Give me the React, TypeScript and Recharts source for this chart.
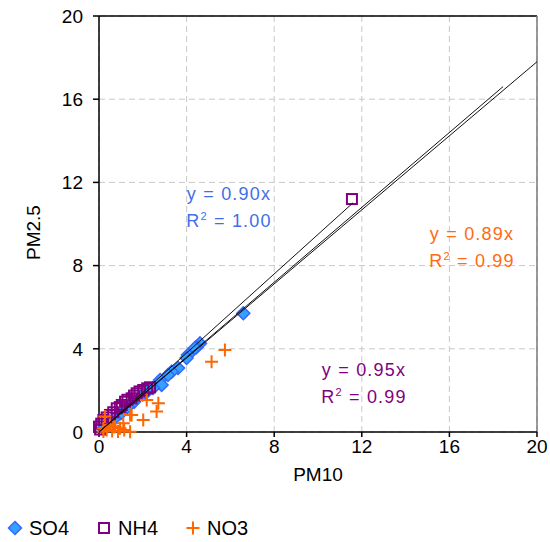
import React from 'react';
import { ScatterChart, Scatter, XAxis, YAxis, CartesianGrid, ReferenceLine, Legend, Label } from 'recharts';

// PM10 vs PM2.5 pairs
const so4 = [
  [6.59, 5.71], [4.61, 4.26], [4.45, 4.08], [4.38, 4.04], [4.06, 3.7], [4.0, 3.56],
  [3.61, 3.08], [3.32, 2.9], [3.15, 2.74], [2.79, 2.5], [2.86, 2.26], [2.47, 2.12],
  [2.2, 1.95], [2.0, 1.8], [1.6, 1.45], [1.3, 1.2], [1.0, 0.9], [0.7, 0.65],
  [0.4, 0.38], [0.2, 0.18],
];
const nh4 = [
  [11.55, 11.2], [2.33, 2.15], [2.2, 2.1], [2.02, 2.02], [1.85, 1.95], [1.72, 1.86],
  [1.6, 1.75], [1.49, 1.62], [1.3, 1.55], [1.19, 1.46], [1.04, 1.3], [0.95, 1.2],
  [0.81, 1.14], [0.65, 0.95], [0.5, 0.82], [0.35, 0.7], [0.2, 0.58], [0.1, 0.4],
  [0.0, 0.26], [0.05, 0.12],
];
const no3 = [
  [5.75, 3.94], [5.14, 3.38], [2.71, 1.38], [2.63, 0.98], [2.18, 1.54], [2.02, 0.58],
  [1.49, 0.82], [1.42, 0.01], [1.11, 0.42], [0.27, 0.74], [0.73, 0.25], [0.35, 0.1],
  [0.96, 0.18], [0.5, 0.34], [0.2, 0.02], [0.87, 0.02], [1.42, 0.82], [0.2, 0.18],
  [0.65, 0.25], [0.6, 0.05], [1.15, 0.1],
];

const seriesNames = ['SO4', 'NH4', 'NO3'];
const trendSlopes = [0.9, 0.89, 0.95];
const trendEnds = [18.45, 20, 11.6];
const axisTicks = [0, 4, 8, 12, 16, 20];

const toPts = (arr: number[][]) => arr.map(([x, y]) => ({ x, y }));
const trendData = trendSlopes.map((s, i) => [
  { x: 0, y: 0 },
  { x: trendEnds[i], y: +(s * trendEnds[i]).toFixed(3) },
]);

const FONT = '"Liberation Sans", Arial, sans-serif';

const Diamond = (p: any) => {
  const { cx, cy } = p;
  const r = 6.5;
  return (
    <path
      d={`M${cx},${cy - r}L${cx + r},${cy}L${cx},${cy + r}L${cx - r},${cy}Z`}
      fill="#33a1ff"
      stroke="#3366ff"
      strokeWidth={1.5}
    />
  );
};

const Square = (p: any) => {
  const { cx, cy } = p;
  return <rect x={cx - 5} y={cy - 5} width={10} height={10} fill="none" stroke="#800080" strokeWidth={2} />;
};

const Cross = (p: any) => {
  const { cx, cy } = p;
  const r = 6.5;
  return <path d={`M${cx - r},${cy}H${cx + r}M${cx},${cy - r}V${cy + r}`} stroke="#ff6600" strokeWidth={2} fill="none" />;
};

const NoDot = () => <g />;

const legendIcons: Record<string, React.ReactNode> = {
  SO4: (
    <svg width={16} height={16}>
      <path d="M8,1.5L14.5,8L8,14.5L1.5,8Z" fill="#33a1ff" stroke="#3366ff" strokeWidth={1.5} />
    </svg>
  ),
  NH4: (
    <svg width={16} height={16}>
      <rect x={3} y={3} width={10} height={10} fill="none" stroke="#800080" strokeWidth={2} />
    </svg>
  ),
  NO3: (
    <svg width={16} height={16}>
      <path d="M1.5,8H14.5M8,1.5V14.5" stroke="#ff6600" strokeWidth={2} />
    </svg>
  ),
};

const renderLegend = (props: any) => {
  const names = (props.payload || []).map((e: any) => e.value);
  const items = seriesNames.filter((n) => names.includes(n));
  return (
    <div style={{ display: 'flex', height: 24, fontFamily: FONT, fontSize: 20, color: '#000', paddingLeft: 7 }}>
      {items.map((n) => (
        <div key={n} style={{ display: 'flex', alignItems: 'center', marginRight: 27 }}>
          {legendIcons[n]}
          <span style={{ marginLeft: 6 }}>{n}</span>
        </div>
      ))}
    </div>
  );
};

const annotations = [
  { x: 229, y: 200, color: '#3f6fe8', eq: 'y = 0.90x', r2: '1.00' },
  { x: 472, y: 240, color: '#ff6a13', eq: 'y = 0.89x', r2: '0.99' },
  { x: 364, y: 376, color: '#800080', eq: 'y = 0.95x', r2: '0.99' },
];

export default function App() {
  return (
    <div style={{ position: 'absolute', left: 0, top: 0, width: 550, height: 542, background: '#fff' }}>
      <ScatterChart width={550} height={542} margin={{ top: 16, right: 13, bottom: 56, left: 0 }}>
        <CartesianGrid stroke="#c8c8c8" strokeDasharray="6 4" horizontalValues={axisTicks} verticalValues={axisTicks} />
        <XAxis
          type="number"
          dataKey="x"
          domain={[0, 20]}
          ticks={axisTicks}
          height={30}
          tickSize={5}
          tickMargin={3}
          stroke="#000"
          strokeWidth={1.5}
          tick={{ fill: '#000', fontSize: 19, fontFamily: FONT }}
        >
          <Label value="PM10" position="insideBottom" offset={-19} fill="#000" fontSize={19} fontFamily={FONT} />
        </XAxis>
        <YAxis
          type="number"
          dataKey="y"
          domain={[0, 20]}
          ticks={axisTicks}
          width={99}
          tickSize={6}
          tickMargin={10}
          stroke="#000"
          strokeWidth={1.5}
          tick={{ fill: '#000', fontSize: 19, fontFamily: FONT }}
        >
          <Label value="PM2.5" angle={-90} position="insideLeft" offset={33} dy={36} fill="#000" fontSize={19} fontFamily={FONT} />
        </YAxis>
        <ReferenceLine y={20} stroke="#000" strokeWidth={1.5} />
        <ReferenceLine x={20} stroke="#7a7a7a" strokeWidth={1.5} />
        <Scatter name="SO4" data={toPts(so4)} shape={Diamond} isAnimationActive={false} />
        <Scatter name="NH4" data={toPts(nh4)} shape={Square} isAnimationActive={false} />
        <Scatter name="NO3" data={toPts(no3)} shape={Cross} isAnimationActive={false} />
        {trendData.map((d, i) => (
          <Scatter
            key={i}
            name={`trend${i}`}
            data={d}
            shape={NoDot}
            line={{ stroke: '#111', strokeWidth: 1 }}
            legendType="none"
            isAnimationActive={false}
          />
        ))}
        <Legend
          verticalAlign="bottom"
          content={renderLegend}
          wrapperStyle={{ position: 'absolute', left: 0, top: 516, width: 550 }}
        />
      </ScatterChart>
      <svg width={550} height={542} style={{ position: 'absolute', left: 0, top: 0, pointerEvents: 'none' }}>
        {annotations.map((a) => (
          <g key={a.eq} fill={a.color} fontFamily={FONT} fontSize={18} textAnchor="middle" letterSpacing={1.2}>
            <text x={a.x} y={a.y}>{a.eq}</text>
            <text x={a.x} y={a.y + 27}>
              R<tspan fontSize={11} dy={-7}>2</tspan>
              <tspan dy={7}> = {a.r2}</tspan>
            </text>
          </g>
        ))}
      </svg>
    </div>
  );
}
